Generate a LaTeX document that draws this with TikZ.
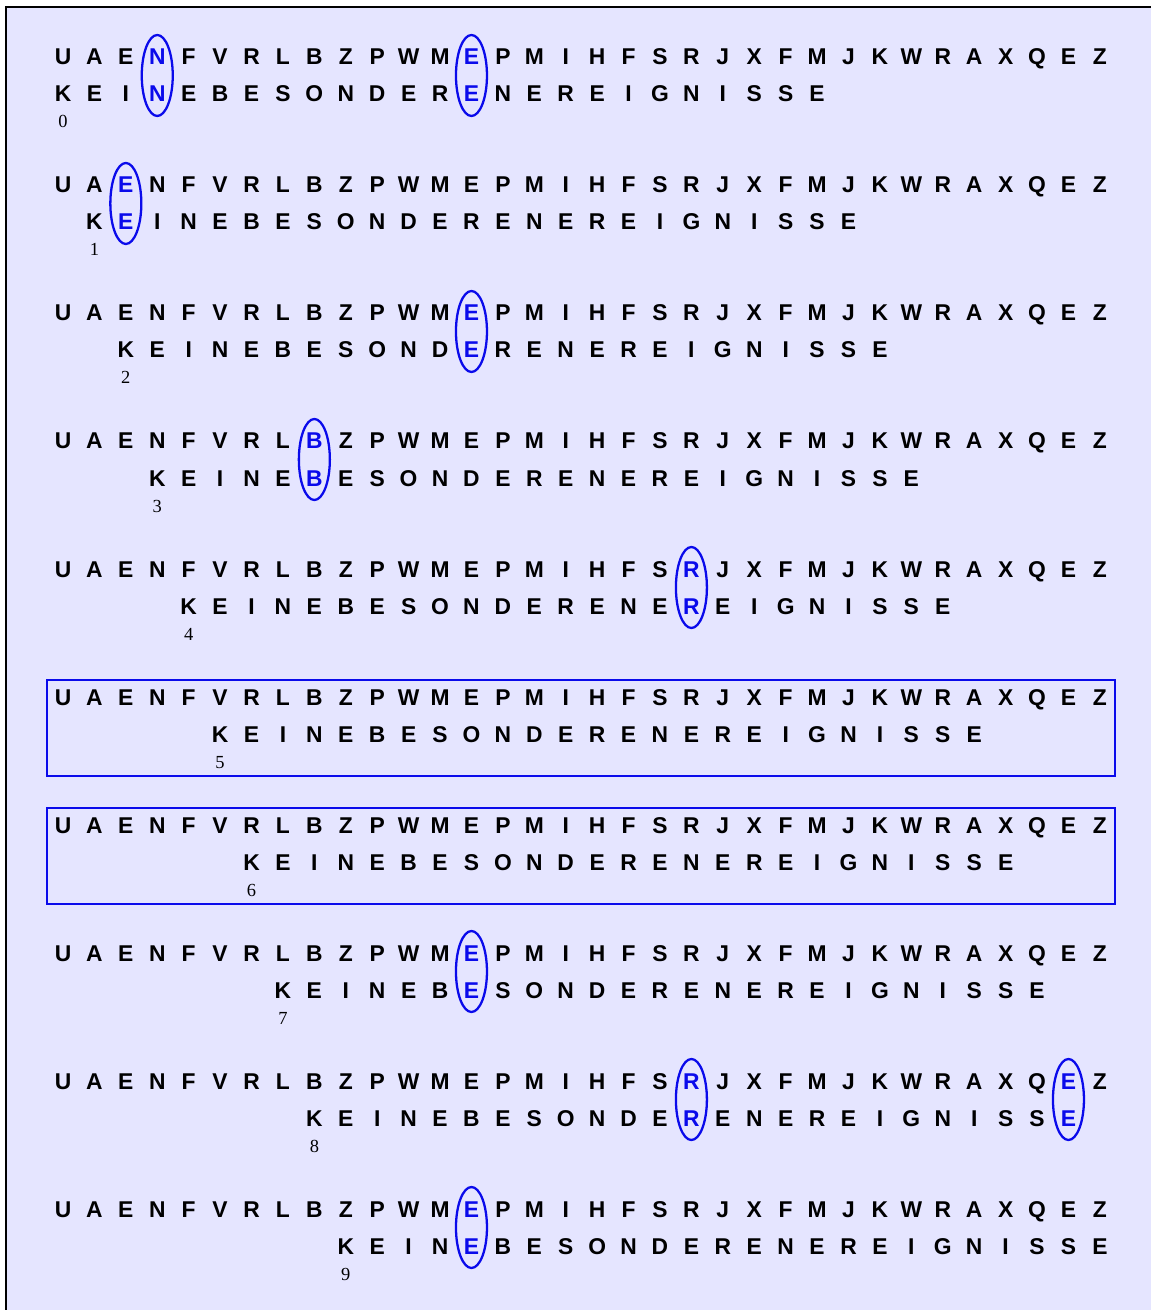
\documentclass[tikz,border=0pt]{standalone}
\usepackage{fontspec}
\setmainfont{Liberation Serif}
\newfontfamily\helvfont{Liberation Sans}
\usetikzlibrary{calc}
\definecolor{lavender}{RGB}{229,229,255}
\definecolor{hitblue}{RGB}{10,10,235}

% matches: row/cipher index
\def\hitlist{0/3,0/13,1/2,2/13,3/8,4/20,7/13,8/20,8/32,9/13}
\foreach \r/\i in \hitlist {\expandafter\gdef\csname hit-\r-\i\endcsname{}}

\begin{document}
\begin{tikzpicture}[x=0.02cm,y=-0.02cm,
	ltr/.style={font=\helvfont\bfseries\fontsize{13}{15}\selectfont,
		inner sep=0pt,anchor=base},
	num/.style={font=\fontsize{10.5}{12}\selectfont,inner sep=0pt,anchor=base},
	ring/.style={draw=hitblue,line width=1.3pt},
	rowbox/.style={draw=hitblue,line width=1.5pt}]
	\useasboundingbox (0,0) rectangle (1151,1310);
	\fill[lavender] (6,7) rectangle (1160,1320);
	\draw[line width=1.1pt] (6,1320) -- (6,7) -- (1160,7);
	\foreach \r in {0,...,9}{
		% ciphertext
		\foreach \ch [count=\i from 0] in
		{U,A,E,N,F,V,R,L,B,Z,P,W,M,E,P,M,I,H,F,S,R,J,X,F,M,J,K,W,R,A,X,Q,E,Z}{
			\ifcsname hit-\r-\i\endcsname\def\lc{hitblue}\else\def\lc{black}\fi
			\node[ltr,text=\lc] (c\r-\i) at ({63+31.42*\i},{65+128*\r}) {\ch};
		}
		% crib
		\foreach \ch [count=\j from 0] in
		{K,E,I,N,E,B,E,S,O,N,D,E,R,E,N,E,R,E,I,G,N,I,S,S,E}{
			\pgfmathtruncatemacro\i{\j+\r}
			\ifcsname hit-\r-\i\endcsname\def\lc{hitblue}\else\def\lc{black}\fi
			\node[ltr,text=\lc] (k\r-\j) at ({63+31.42*\i},{102+128*\r}) {\ch};
		}
		\node[num] (n\r) at ({63+31.42*\r},{128+128*\r}) {\r};
	}
	\foreach \r/\i in \hitlist
	\draw[ring] ($(c\r-\i.base)+(0,10.5)$) ellipse (15.5 and 40.5);
	\foreach \r in {5,6}
	\draw[rowbox] ($(c\r-0.base)+(-16,-25)$) rectangle ($(c\r-33.base)+(15,71)$);
\end{tikzpicture}
\end{document}
